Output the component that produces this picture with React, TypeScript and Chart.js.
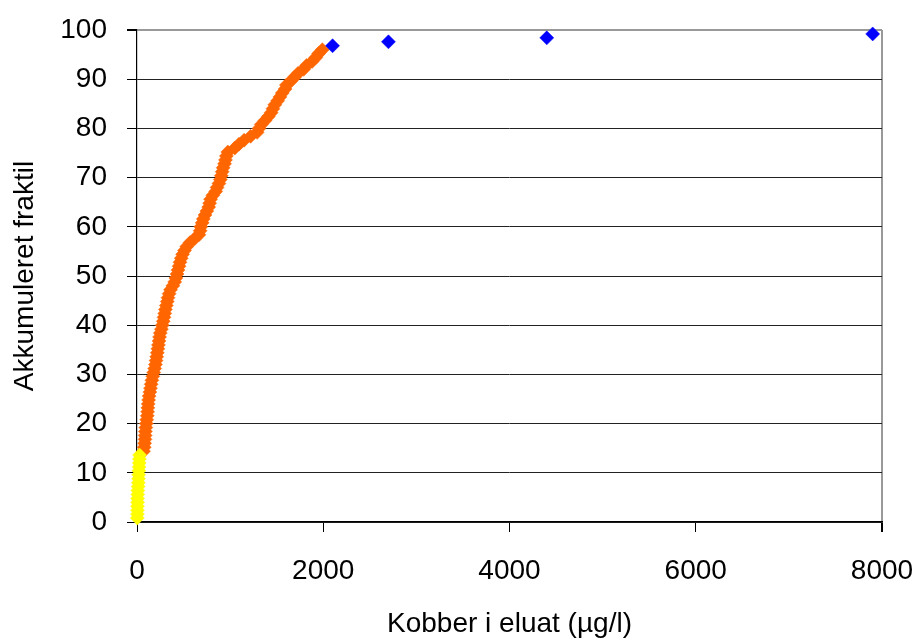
import React, { useEffect, useRef } from "react";
import { Chart, registerables } from "chart.js";

Chart.register(...registerables);

// Cumulative fractile (%) vs copper in eluate (µg/l)
const yellowX = [3, 4, 5, 5, 6, 6, 8, 9, 12, 14, 16, 18, 20, 22, 24, 26, 28];
const yellowY = [0.8, 1.6, 2.4, 3.2, 4.0, 4.8, 5.6, 6.4, 7.2, 8.0, 8.8, 9.6, 10.4, 11.2, 12.0, 12.8, 13.6];

const orangeX = [
  70, 78, 82, 86, 88, 90, 95, 100, 105, 110,
  114, 117, 120, 125, 130, 138, 145, 152, 160, 170,
  180, 190, 198, 205, 212, 218, 224, 230, 236, 242,
  250, 262, 272, 282, 290, 298, 305, 315, 325, 333,
  345, 360, 385, 405, 418, 430, 440, 452, 462, 475,
  490, 510, 535, 570, 620, 665, 678, 685, 700, 712,
  730, 750, 770, 780, 790, 815, 845, 860, 880, 895,
  905, 915, 925, 940, 950, 960, 975, 1050, 1095, 1150,
  1220, 1290, 1310, 1335, 1375, 1410, 1440, 1460, 1480, 1510,
  1535, 1560, 1590, 1605, 1650, 1690, 1730, 1790, 1820, 1880,
  1920, 1950, 1990,
];
const orangeY = [
  14.4, 15.2, 16.0, 16.8, 17.6, 18.4, 19.2, 20.0, 20.8, 21.6,
  22.4, 23.2, 24.0, 24.8, 25.6, 26.4, 27.2, 28.0, 28.8, 29.6,
  30.4, 31.2, 32.0, 32.8, 33.6, 34.4, 35.2, 36.0, 36.8, 37.6,
  38.4, 39.2, 40.0, 40.8, 41.6, 42.4, 43.2, 44.0, 44.8, 45.6,
  46.4, 47.2, 48.0, 48.8, 49.6, 50.4, 51.2, 52.0, 52.8, 53.6,
  54.4, 55.2, 56.0, 56.8, 57.6, 58.4, 59.2, 60.0, 60.8, 61.6,
  62.4, 63.2, 64.0, 64.8, 65.6, 66.4, 67.2, 68.0, 68.8, 69.6,
  70.4, 71.2, 72.0, 72.8, 73.6, 74.4, 75.2, 76.0, 76.8, 77.6,
  78.4, 79.2, 80.0, 80.8, 81.6, 82.4, 83.2, 84.0, 84.8, 85.6,
  86.4, 87.2, 88.0, 88.8, 89.6, 90.4, 91.2, 92.0, 92.8, 93.6,
  94.4, 95.2, 96.0,
];

const blueX = [2100, 2700, 4400, 7900];
const blueY = [96.8, 97.6, 98.4, 99.2];

const xTitle = "Kobber i eluat (µg/l)";
const yTitle = "Akkumuleret fraktil";

const FONT = "'Liberation Sans', Arial, sans-serif";

const toPoints = (xs: number[], ys: number[]) => xs.map((x, i) => ({ x, y: ys[i] }));

export default function App() {
  const ref = useRef<HTMLCanvasElement | null>(null);

  useEffect(() => {
    if (!ref.current) return;
    const mk = (data: { x: number; y: number }[], color: string) => ({
      data,
      showLine: false,
      pointStyle: "rectRot" as const,
      pointRadius: 7,
      pointHoverRadius: 7,
      backgroundColor: color,
      borderColor: color,
      borderWidth: 0.5,
      clip: false as const,
    });
    const chart = new Chart(ref.current, {
      type: "scatter",
      data: {
        datasets: [
          mk(toPoints(blueX, blueY), "#0000FF"),
          mk(toPoints(yellowX, yellowY), "#FFFF00"),
          mk(toPoints(orangeX, orangeY), "#FF6600"),
        ],
      },
      options: {
        animation: false,
        responsive: true,
        maintainAspectRatio: false,
        layout: { padding: { left: 0, top: 30, right: 36, bottom: 0 } },
        plugins: { legend: { display: false }, tooltip: { enabled: false } },
        scales: {
          x: {
            type: "linear",
            min: 0,
            max: 8000,
            afterFit: (s: any) => {
              s.height = 119;
              s.paddingLeft = 0;
              s.paddingRight = 0;
            },
            ticks: {
              stepSize: 2000,
              color: "#000",
              padding: 22,
              font: { family: FONT, size: 28 },
              callback: (v: any) => String(v),
            },
            grid: {
              color: (c: any) => (c.tick && c.tick.value === 8000 ? "#999999" : "rgba(0,0,0,0)"),
              lineWidth: (c: any) => (c.tick && c.tick.value === 8000 ? 2 : 1),
              tickColor: "#000",
              tickLength: 10,
            },
            border: { color: "#000", width: 1.2 },
            title: {
              display: true,
              text: xTitle,
              color: "#000",
              font: { family: FONT, size: 28 },
              padding: { top: 0, bottom: 0 },
            },
          },
          y: {
            type: "linear",
            min: 0,
            max: 100,
            afterFit: (s: any) => {
              s.width = 137;
              s.paddingTop = 0;
              s.paddingBottom = 0;
            },
            ticks: {
              stepSize: 10,
              color: "#000",
              padding: 20,
              font: { family: FONT, size: 28 },
              callback: (v: any) => String(v),
            },
            grid: {
              color: (c: any) => (c.tick && c.tick.value === 100 ? "#999999" : "#222222"),
              lineWidth: (c: any) => (c.tick && c.tick.value === 100 ? 2 : 1),
              tickColor: "#000",
              tickLength: 10,
            },
            border: { color: "#000", width: 1.2 },
            title: {
              display: true,
              text: yTitle,
              color: "#000",
              font: { family: FONT, size: 28 },
              padding: { top: 8, bottom: 0 },
            },
          },
        },
      },
    });
    return () => chart.destroy();
  }, []);

  return (
    <div style={{ position: "fixed", left: 0, top: 0, width: 918, height: 641, background: "#fff" }}>
      <canvas ref={ref} />
    </div>
  );
}
